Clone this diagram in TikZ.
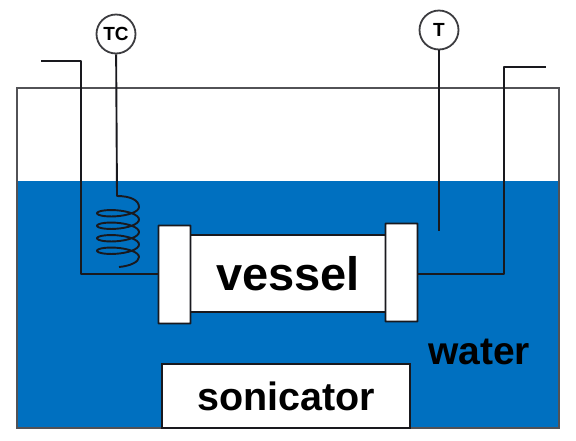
\documentclass[tikz,border=0pt]{standalone}
\usepackage{fontspec}
\setmainfont{Liberation Sans}
\usetikzlibrary{positioning,calc}
\definecolor{waterblue}{RGB}{0,112,192}
\definecolor{wirecol}{RGB}{25,25,30}
\tikzset{
  wire/.style ={draw=wirecol,line width=1.9pt,line join=round},
  gauge/.style={circle,draw=wirecol!85,line width=1.8pt,fill=white,minimum size=39pt,inner sep=0pt,font=\bfseries\fontsize{19}{19}\selectfont},
  endcap/.style={rectangle,draw=wirecol,line width=1.9pt,fill=white,rounded corners=0.5pt,minimum width=32pt,minimum height=98pt,inner sep=0pt},
  body/.style ={rectangle,draw=wirecol,line width=1.9pt,fill=white,inner sep=0pt,font=\bfseries},
}
\begin{document}
\begin{tikzpicture}[x=1pt,y=-1pt]
  \useasboundingbox (0,0) rectangle (576,440);
  % tank and water
  \fill[waterblue] (17,181) rectangle (559,428);
  \coordinate (tl) at (17,88); \coordinate (tr) at (559,88);
  \coordinate (bl) at (17,428); \coordinate (br) at (559,428);
  \draw[draw=wirecol!75,line width=1.9pt] (tl) -- (tr) -- (br) -- (bl) -- cycle;
  % vessel
  \node[body,minimum width=200pt,minimum height=77pt,font=\bfseries\fontsize{47}{47}\selectfont] (vessel) at (288,273.5) {\raisebox{-6pt}{vessel}};
  \node[endcap] (capl) at (174.5,274.5) {};
  \node[endcap] (capr) at (401.5,272.5) {};
  \node[body,minimum width=248pt,minimum height=64pt,font=\bfseries\fontsize{39.5}{40}\selectfont] (sonicator) at (286,396) {\raisebox{-5pt}{sonicator}};
  \node[font=\bfseries\fontsize{39}{39}\selectfont,text=black] (water) at (479,352) {water};
  % gauges
  \node[gauge] (tc) at (116,34) {TC};
  \node[gauge] (t) at (439,30) {T};
  % wires
  \coordinate (inl) at (41,61);
  \coordinate (outr) at (546,67);
  \draw[wire] (inl) -- (81,61) -- (81,274) -- (capl.west |- 0,274);
  \draw[wire] (capr.east |- 0,274) -- (504,274) -- (504,67) -- (outr);
  \coordinate (tend) at (439,231);
  \draw[wire] (t) -- (tend);
  \coordinate (coil) at (117,196);
  \draw[wire] (tc) -- (coil) .. controls (130,196) and (139,200) .. (139,207)
    -- plot[domain=0:1440,samples=121] ({118+21*cos(\x)},{207+\x/360*12.5+6*sin(\x)})
    .. controls (139,262) and (130,266) .. (119,267);
\end{tikzpicture}
\end{document}
